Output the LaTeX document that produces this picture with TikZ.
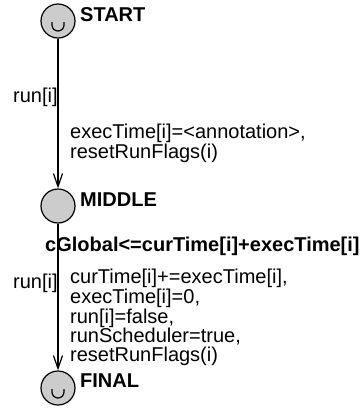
\documentclass[tikz,border=0pt]{standalone}
\usepackage{fontspec}
\setmainfont{Liberation Sans}
\usetikzlibrary{arrows.meta}
\tikzset{
  loc/.style={circle, draw=black, line width=1.2pt, fill=black!20, minimum size=34pt, inner sep=0pt},
  lbl/.style={font=\fontsize{20}{18.3}\selectfont\bfseries, anchor=base west, inner sep=0pt},
  txt/.style={font=\fontsize{20}{18.3}\selectfont, anchor=base west, inner sep=0pt, align=left},
  edge/.style={line width=1.2pt, -{Straight Barb[length=13pt,width=9pt,line width=1.2pt]}},
  urg/.style={line width=1.2pt}
}
\begin{document}
\begin{tikzpicture}[x=1pt,y=-1pt]
\useasboundingbox (0,0) rectangle (362,410);
\node[loc] (start) at (58,21) {};
\node[loc] (middle) at (58,206) {};
\node[loc] (final) at (58,388) {};
\draw[urg] ([shift={(-6,1)}]start.center) -- ([shift={(-6,4)}]start.center) arc[start angle=180,end angle=0,radius=6] -- ([shift={(6,1)}]start.center);
\draw[urg] ([shift={(-6,1)}]final.center) -- ([shift={(-6,4)}]final.center) arc[start angle=180,end angle=0,radius=6] -- ([shift={(6,1)}]final.center);
\node[lbl] (startlbl) at (80,21) {START};
\node[lbl] (middlelbl) at (80,206) {MIDDLE};
\node[lbl] (finallbl) at (80,387) {FINAL};
\draw[edge] (start) -- (middle);
\draw[edge] (middle) -- (final);
\node[txt] (sync1) at (13,102) {run[i]};
\node[txt] (upd1) at (70,158.3) {execTime[i]=<annotation>,\\resetRunFlags(i)};
\node[lbl] (inv) at (45,251) {cGlobal<=curTime[i]+execTime[i]};
\node[txt] (sync2) at (13,288) {run[i]};
\node[txt] (upd2) at (70,361.2) {curTime[i]+=execTime[i],\\execTime[i]=0,\\run[i]=false,\\runScheduler=true,\\resetRunFlags(i)};
\end{tikzpicture}
\end{document}
